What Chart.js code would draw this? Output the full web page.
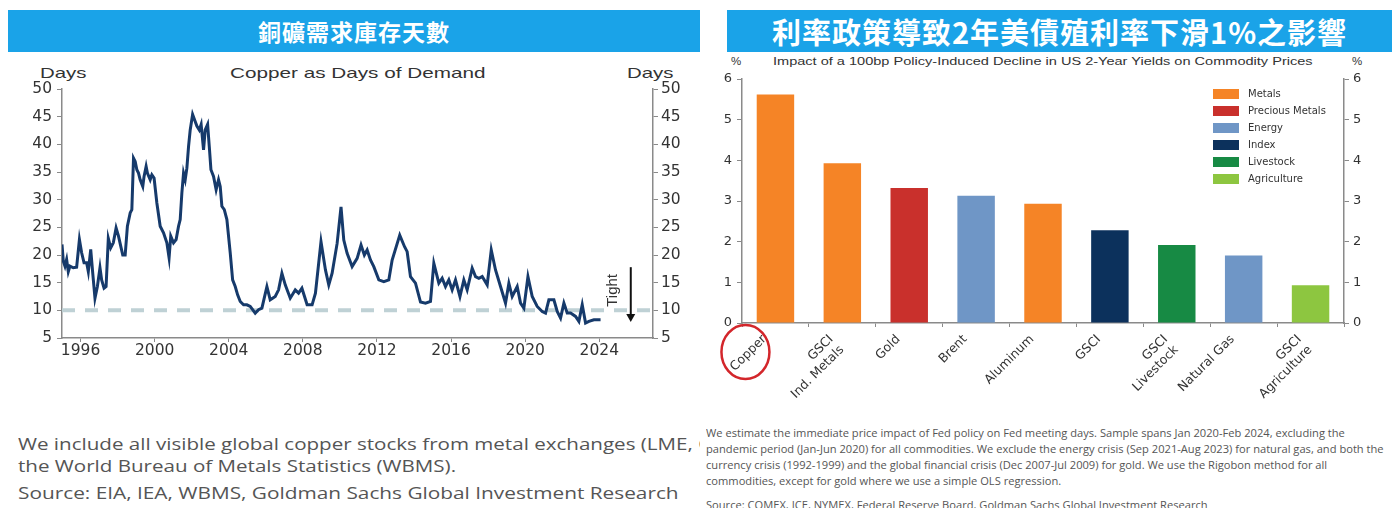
<!DOCTYPE html>
<html>
<head>
<meta charset="utf-8">
<script src="https://cdn.jsdelivr.net/npm/chart.js@4.4.1/dist/chart.umd.min.js"></script>
<style>
  body { margin:0; width:1400px; height:508px; overflow:hidden; background:#fff; position:relative; font-family:"Liberation Sans", Arial, sans-serif; }
  .band { position:absolute; top:10px; height:42px; background:#1aa3e8; color:#fff; font-family:"Noto Sans CJK TC", sans-serif; font-weight:bold; display:flex; align-items:center; justify-content:center; letter-spacing:1px; }
  .lbl { position:absolute; color:#333; white-space:nowrap; transform-origin:left center; }
  .box { position:absolute; }
  .clip { position:absolute; overflow:hidden; }
  .clip div { white-space:nowrap; transform-origin:left top; }
  .legend { position:absolute; left:1213px; top:85px; font-family:"DejaVu Sans", sans-serif; font-size:10px; color:#333; }
  .legend div { height:17px; display:flex; align-items:center; }
  .legend span { display:inline-block; width:26px; height:10px; margin-right:9px; }
</style>
</head>
<body>
<div class="band" style="left:8px;width:692px;font-size:23px;">銅礦需求庫存天數</div>
<div class="band" style="left:727px;width:665px;font-size:29px;">利率政策導致2年美債殖利率下滑1%之影響</div>

<div class="lbl" style="left:40px;top:64px;font-size:15px;transform:scaleX(1.36);">Days</div>
<div class="lbl" style="left:230px;top:64px;font-size:15px;transform:scaleX(1.38);">Copper as Days of Demand</div>
<div class="lbl" style="left:627px;top:64px;font-size:15px;transform:scaleX(1.36);">Days</div>

<div class="lbl" style="left:731px;top:55px;font-size:11.5px;">%</div>
<div class="lbl" style="left:773px;top:55px;font-size:11.5px;transform:scaleX(1.265);">Impact of a 100bp Policy-Induced Decline in US 2-Year Yields on Commodity Prices</div>
<div class="lbl" style="left:1352px;top:55px;font-size:11.5px;">%</div>

<div class="box" style="left:0;top:60px;width:700px;height:300px;"><canvas id="copper" width="700" height="300"></canvas></div>
<div class="box" style="left:700px;top:55px;width:700px;height:370px;"><canvas id="impact" width="700" height="370"></canvas></div>
<div class="legend" id="legend"></div>

<div class="clip" style="left:18px;top:433px;width:682px;height:75px;">
  <div style="font-family:'Open Sans',sans-serif;font-size:16px;color:#555;line-height:22px;transform:scaleX(1.285);">We include all visible global copper stocks from metal exchanges (LME, COMEX, SHFE) and<br>the World Bureau of Metals Statistics (WBMS).</div>
  <div style="font-family:'Open Sans',sans-serif;font-size:16px;color:#555;line-height:22px;margin-top:5px;transform:scaleX(1.3);">Source: EIA, IEA, WBMS, Goldman Sachs Global Investment Research</div>
</div>

<div class="clip" style="left:706px;top:425px;width:690px;height:83px;">
  <div style="font-family:'Open Sans',sans-serif;font-size:10.5px;color:#555;line-height:16px;transform:scaleX(1.06);">We estimate the immediate price impact of Fed policy on Fed meeting days. Sample spans Jan 2020-Feb 2024, excluding the<br>pandemic period (Jan-Jun 2020) for all commodities. We exclude the energy crisis (Sep 2021-Aug 2023) for natural gas, and both the<br>currency crisis (1992-1999) and the global financial crisis (Dec 2007-Jul 2009) for gold. We use the Rigobon method for all<br>commodities, except for gold where we use a simple OLS regression.</div>
  <div style="font-family:'Open Sans',sans-serif;font-size:10.5px;color:#555;line-height:16px;margin-top:8px;transform:scaleX(1.06);">Source: COMEX, ICE, NYMEX, Federal Reserve Board, Goldman Sachs Global Investment Research</div>
</div>

<script>
// copper stocks as days of demand
var copperYears = [1995.00,1995.07,1995.16,1995.25,1995.34,1995.43,1995.61,1995.79,1995.94,1996.06,
  1996.19,1996.33,1996.42,1996.55,1996.66,1996.78,1996.91,1997.05,1997.14,1997.27,
  1997.38,1997.50,1997.63,1997.77,1997.92,1998.05,1998.17,1998.28,1998.41,1998.53,
  1998.68,1998.77,1998.86,1998.95,1999.04,1999.13,1999.22,1999.36,1999.43,1999.54,
  1999.61,1999.76,1999.85,1999.97,2000.12,2000.30,2000.48,2000.66,2000.78,2000.87,
  2001.02,2001.16,2001.29,2001.38,2001.47,2001.56,2001.65,2001.74,2001.83,2001.92,
  2002.05,2002.15,2002.28,2002.41,2002.51,2002.64,2002.73,2002.86,2002.95,2003.04,
  2003.18,2003.32,2003.45,2003.54,2003.63,2003.76,2003.90,2004.08,2004.21,2004.35,
  2004.48,2004.62,2004.80,2004.98,2005.16,2005.43,2005.61,2005.79,2006.06,2006.24,
  2006.51,2006.69,2006.87,2007.05,2007.32,2007.59,2007.77,2007.95,2008.23,2008.50,
  2008.68,2008.98,2009.22,2009.40,2009.58,2009.85,2010.06,2010.21,2010.39,2010.66,
  2010.93,2011.14,2011.32,2011.47,2011.65,2011.83,2012.10,2012.37,2012.64,2012.82,
  2013.23,2013.49,2013.63,2013.81,2014.08,2014.35,2014.62,2014.89,2015.07,2015.34,
  2015.52,2015.70,2015.88,2016.06,2016.24,2016.48,2016.69,2016.87,2017.14,2017.32,
  2017.50,2017.68,2017.95,2018.17,2018.40,2018.67,2018.94,2019.12,2019.30,2019.57,
  2019.75,2019.93,2020.15,2020.38,2020.65,2020.92,2021.10,2021.28,2021.55,2021.73,
  2021.91,2022.09,2022.27,2022.45,2022.72,2022.90,2023.08,2023.26,2023.44,2023.71,
  2024.07];
var copperDays = [21.9,18.9,18.0,19.2,17.0,18.0,17.7,17.8,22.8,20.4,
  18.6,18.6,17.0,21.0,16.7,12.2,14.3,17.7,15.5,14.0,
  14.3,23.0,21.3,22.2,24.9,23.4,21.6,20.0,20.0,25.2,
  27.6,28.2,37.5,36.9,35.4,34.8,33.6,32.4,34.2,36.0,
  34.8,33.6,34.5,33.9,29.4,25.2,24.0,22.2,19.5,23.4,
  22.2,22.8,25.2,26.4,31.2,34.8,33.6,35.7,39.6,42.6,
  45.4,44.5,43.3,42.6,43.6,39.0,42.6,43.6,39.6,35.4,
  34.2,31.8,33.6,32.4,28.8,28.2,26.4,20.4,15.5,14.3,
  12.8,11.6,11.0,11.0,10.7,9.5,10.1,10.4,14.3,11.9,
  12.5,13.7,16.7,14.6,12.2,13.7,13.1,14.0,11.0,11.0,
  13.1,22.4,17.3,14.6,16.7,22.1,28.7,22.7,20.3,17.9,
  19.4,21.8,20.0,20.9,19.1,17.9,15.5,15.2,15.5,19.1,
  23.6,21.5,20.6,16.1,14.9,11.5,11.3,11.6,18.5,14.9,
  15.8,14.3,15.5,13.7,15.5,12.5,15.5,13.7,17.6,16.1,
  15.8,16.1,14.6,20.9,17.3,14.3,11.3,14.9,12.5,14.3,
  11.3,10.4,16.1,12.5,10.7,9.8,9.5,11.9,11.9,9.8,
  8.6,11.3,9.5,9.5,8.9,8.0,11.0,7.7,8.0,8.3,
  8.3];
var yearTicks = [1996, 2000, 2004, 2008, 2012, 2016, 2020, 2024];
var tightLevel = 10;

// impact of a 100bp decline in 2y yields, %
var barLabels = ['Copper', ['GSCI', 'Ind. Metals'], 'Gold', 'Brent', 'Aluminum', 'GSCI', ['GSCI', 'Livestock'], 'Natural Gas', ['GSCI', 'Agriculture']];
var barValues = [5.62, 3.93, 3.32, 3.13, 2.93, 2.28, 1.92, 1.66, 0.93];
var barGroups = ['Metals', 'Metals', 'Precious Metals', 'Energy', 'Metals', 'Index', 'Livestock', 'Energy', 'Agriculture'];
var groupNames = ['Metals', 'Precious Metals', 'Energy', 'Index', 'Livestock', 'Agriculture'];
var groupColors = { 'Metals': '#f58426', 'Precious Metals': '#c9302c', 'Energy': '#6f96c6', 'Index': '#0c315c', 'Livestock': '#178a44', 'Agriculture': '#8dc640' };

Chart.defaults.font.family = '"DejaVu Sans", sans-serif';
Chart.defaults.color = '#333';

var axisGrey = '#8a8a8a';

// arrow + "Tight" label on the copper chart
var tightPlugin = {
  id: 'tight',
  afterDatasetsDraw: function(chart) {
    var ctx = chart.ctx, x = chart.scales.x, y = chart.scales.y;
    var ax = x.getPixelForValue(2025.7);
    var top = y.getPixelForValue(17.8), bot = y.getPixelForValue(7.9);
    ctx.save();
    ctx.strokeStyle = '#111';
    ctx.fillStyle = '#111';
    ctx.lineWidth = 2;
    ctx.beginPath();
    ctx.moveTo(ax, top);
    ctx.lineTo(ax, bot - 7);
    ctx.stroke();
    ctx.beginPath();
    ctx.moveTo(ax - 4.5, bot - 8);
    ctx.lineTo(ax + 4.5, bot - 8);
    ctx.lineTo(ax, bot);
    ctx.closePath();
    ctx.fill();
    ctx.translate(x.getPixelForValue(2024.75), y.getPixelForValue(13.6));
    ctx.rotate(-Math.PI / 2);
    ctx.font = '15px "Liberation Sans", Arial';
    ctx.textAlign = 'center';
    ctx.textBaseline = 'middle';
    ctx.fillStyle = '#333';
    ctx.fillText('Tight', 0, 0);
    ctx.restore();
  }
};

new Chart(document.getElementById('copper'), {
  type: 'line',
  data: {
    datasets: [{
      data: copperYears.map(function(v, i) { return { x: v, y: copperDays[i] }; }),
      borderColor: '#163a6b',
      borderWidth: 3,
      pointRadius: 0,
      tension: 0,
      order: 0
    }, {
      data: [{ x: 1995, y: tightLevel }, { x: 2026.9, y: tightLevel }],
      borderColor: '#bfd1d5',
      borderWidth: 4,
      borderDash: [13, 10],
      pointRadius: 0,
      order: 1
    }]
  },
  options: {
    responsive: false,
    animation: false,
    devicePixelRatio: 1,
    layout: { padding: { top: 29, left: 0, right: 0, bottom: 0 } },
    plugins: { legend: { display: false }, tooltip: { enabled: false } },
    scales: {
      x: {
        type: 'linear', min: 1995, max: 2026.9,
        afterBuildTicks: function(s) { s.ticks = yearTicks.map(function(v) { return { value: v }; }); },
        ticks: { callback: function(v) { return String(v); }, font: { size: 15.5 }, maxRotation: 0, padding: 0 },
        grid: { drawOnChartArea: false, tickLength: 4, color: axisGrey },
        border: { color: axisGrey, width: 1.5 },
        afterFit: function(s) { s.height = 22; }
      },
      y: {
        position: 'left', min: 5, max: 50,
        ticks: { stepSize: 5, font: { size: 15.5 }, padding: 5 },
        grid: { drawOnChartArea: false, tickLength: 5, color: axisGrey },
        border: { color: axisGrey, width: 1.5 },
        afterFit: function(s) { s.width = 62; }
      },
      y2: {
        type: 'linear', position: 'right', min: 5, max: 50,
        ticks: { stepSize: 5, font: { size: 15.5 }, padding: 3 },
        grid: { drawOnChartArea: false, tickLength: 5, color: axisGrey },
        border: { color: axisGrey, width: 1.5 },
        afterFit: function(s) { s.width = 47; }
      }
    }
  },
  plugins: [tightPlugin]
});

// red circle round the Copper label
var circlePlugin = {
  id: 'circle',
  afterDraw: function(chart) {
    var ctx = chart.ctx;
    var cx = chart.scales.x.getPixelForValue(0) - 30;
    var cy = chart.chartArea.bottom + 29;
    ctx.save();
    ctx.strokeStyle = '#d3262b';
    ctx.lineWidth = 2.5;
    ctx.beginPath();
    ctx.ellipse(cx, cy, 24, 27, 0, 0, Math.PI * 2);
    ctx.stroke();
    ctx.restore();
  }
};

new Chart(document.getElementById('impact'), {
  type: 'bar',
  data: {
    labels: barLabels,
    datasets: [{
      data: barValues,
      backgroundColor: barGroups.map(function(g) { return groupColors[g]; }),
      barPercentage: 0.56,
      categoryPercentage: 1
    }]
  },
  options: {
    responsive: false,
    animation: false,
    devicePixelRatio: 1,
    layout: { padding: { top: 24, left: 0, right: 0, bottom: 0 } },
    plugins: { legend: { display: false }, tooltip: { enabled: false } },
    scales: {
      x: {
        ticks: { minRotation: 45, maxRotation: 45, font: { size: 12.5 }, padding: 5, labelOffset: -11, autoSkip: false },
        grid: { drawOnChartArea: false, offset: true, tickLength: 4, color: axisGrey },
        border: { color: axisGrey, width: 1.5 },
        afterFit: function(s) { s.height = 102; }
      },
      y: {
        position: 'left', min: 0, max: 6,
        ticks: { stepSize: 1, font: { size: 13 }, padding: 5 },
        grid: { drawOnChartArea: false, tickLength: 5, color: axisGrey },
        border: { color: axisGrey, width: 1.5 },
        afterFit: function(s) { s.width = 42; }
      },
      y2: {
        type: 'linear', position: 'right', min: 0, max: 6,
        ticks: { stepSize: 1, font: { size: 13 }, padding: 4 },
        grid: { drawOnChartArea: false, tickLength: 5, color: axisGrey },
        border: { color: axisGrey, width: 1.5 },
        afterFit: function(s) { s.width = 56; }
      }
    }
  },
  plugins: [circlePlugin]
});

// legend for the bar groups
var legendEl = document.getElementById('legend');
groupNames.forEach(function(name) {
  var row = document.createElement('div');
  var sw = document.createElement('span');
  sw.style.background = groupColors[name];
  row.appendChild(sw);
  row.appendChild(document.createTextNode(name));
  legendEl.appendChild(row);
});
</script>
</body>
</html>
